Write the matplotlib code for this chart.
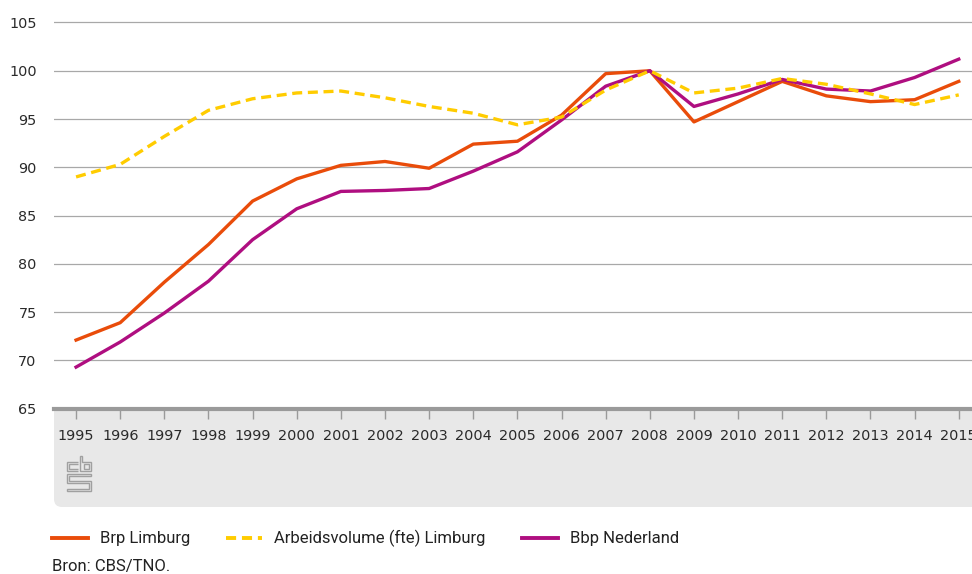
import matplotlib
matplotlib.use("Agg")
import matplotlib.pyplot as plt
from matplotlib.lines import Line2D
from matplotlib.patches import Rectangle, FancyBboxPatch, Polygon

# gegevens (index, 2008 = 100)
years = list(range(1995, 2016))
brp_limburg = [72.1, 73.9, 78.1, 82.0, 86.5, 88.8, 90.2, 90.6, 89.9, 92.4, 92.7,
               95.4, 99.7, 100.0, 94.7, 96.8, 98.9, 97.4, 96.8, 97.0, 98.9]
arbeidsvolume = [89.0, 90.3, 93.2, 95.9, 97.1, 97.7, 97.9, 97.2, 96.3, 95.6, 94.4,
                 95.2, 98.0, 100.0, 97.7, 98.2, 99.2, 98.6, 97.6, 96.5, 97.5]
bbp_nederland = [69.3, 71.9, 74.9, 78.2, 82.5, 85.7, 87.5, 87.6, 87.8, 89.6, 91.6,
                 94.9, 98.4, 100.0, 96.3, 97.6, 99.1, 98.1, 97.9, 99.3, 101.2]
y_ticks = [65, 70, 75, 80, 85, 90, 95, 100, 105]
labels = ["Brp Limburg", "Arbeidsvolume (fte) Limburg", "Bbp Nederland"]
source = "Bron: CBS/TNO."

ORANGE = "#e94c0a"
YELLOW = "#ffcc00"
PURPLE = "#af0e80"
GREY = "#9a9a9a"
TEXT = "#2a2a2a"
DASH = (3, 1.7)

W, H = 972, 574
fig = plt.figure(figsize=(W / 100, H / 100), dpi=100)
tr = fig.dpi_scale_trans


def P(x, y):
    # pixelpositie (vanaf linksboven) naar inches
    return x / 100, (H - y) / 100


# plotgebied
ax = fig.add_axes([54 / W, (H - 408.6) / H, 1 - 54 / W, 408.6 / H])
ax.set_xlim(1994.5, 2015.3)
ax.set_ylim(65, 107.33)

ax.plot(years, brp_limburg, color=ORANGE, lw=2.4, zorder=3)
ax.plot(years, bbp_nederland, color=PURPLE, lw=2.4, zorder=3)
ax.plot(years, arbeidsvolume, color=YELLOW, lw=2.4, dashes=DASH, zorder=3)

ax.set_yticks(y_ticks)
ax.set_xticks(years)
ax.yaxis.grid(True, color="#a8a8a8", lw=0.9)
ax.set_axisbelow(True)
for side in ["top", "right", "left"]:
    ax.spines[side].set_visible(False)
ax.spines["bottom"].set_color(GREY)
ax.spines["bottom"].set_linewidth(3)
ax.spines["bottom"].set_zorder(4)
ax.tick_params(axis="y", length=0, pad=12.5, labelsize=10.4, labelcolor=TEXT)
ax.tick_params(axis="x", length=7.5, width=1, color=GREY, pad=7,
               labelsize=10.4, labelcolor=TEXT)

# grijze band onder de as
x0, y0 = P(54, 470)
fig.add_artist(Rectangle((x0, y0), 10, (470 - 409) / 100, transform=tr,
                         facecolor="#e8e8e8", edgecolor="none", zorder=-2))
x0, y0 = P(54, 507)
fig.add_artist(FancyBboxPatch((x0, y0), 10, (507 - 440) / 100,
                              boxstyle="round,pad=0,rounding_size=0.08",
                              transform=tr, facecolor="#e8e8e8",
                              edgecolor="none", zorder=-2))

# cbs-logo (vereenvoudigd)
lx, ly, sx, sy = 67, 491, 2.4, 2.5


def logo_shape(pts, closed=True):
    xy = [P(lx + px * sx, ly - py * sy) for px, py in pts]
    fig.add_artist(Polygon(xy, closed=closed, transform=tr, fill=False,
                           edgecolor="#a0a0a0", lw=1.0, zorder=-1))


logo_shape([(4.6, 11.8), (0, 11.8), (0, 8), (4.6, 8)], closed=False)
logo_shape([(4.6, 10.8), (1, 10.8), (1, 9), (4.6, 9)], closed=False)
logo_shape([(5.4, 14), (5.4, 8), (10, 8), (10, 11.8), (6.4, 11.8), (6.4, 14)])
logo_shape([(7.2, 9), (9, 9), (9, 10.8), (7.2, 10.8)])
logo_shape([(0, 0), (10, 0), (10, 4.2), (1, 4.2), (1, 6), (10, 6), (10, 7),
            (0, 7), (0, 3.2), (9, 3.2), (9, 1), (0, 1)])

# legenda
legend_font = ["Roboto", "DejaVu Sans"]
items = [(labels[0], ORANGE, None, 52), (labels[1], YELLOW, DASH, 226),
         (labels[2], PURPLE, None, 522)]
for lab, col, dash, xs in items:
    (a, b), (c, d) = P(xs, 538), P(xs + 36, 538)
    ln = Line2D([a, c], [b, d], transform=tr, color=col, lw=2.8)
    if dash:
        ln.set_dashes((2.6, 1.5))
    fig.add_artist(ln)
    tx, ty = P(xs + 48, 538)
    fig.text(tx, ty, lab, transform=tr, va="center", ha="left",
             fontsize=12, color="#222222", family=legend_font)

tx, ty = P(52, 566)
fig.text(tx, ty, source, transform=tr, va="center", ha="left",
         fontsize=12, color="#222222", family=legend_font)

fig.savefig("out.png", dpi=100)
